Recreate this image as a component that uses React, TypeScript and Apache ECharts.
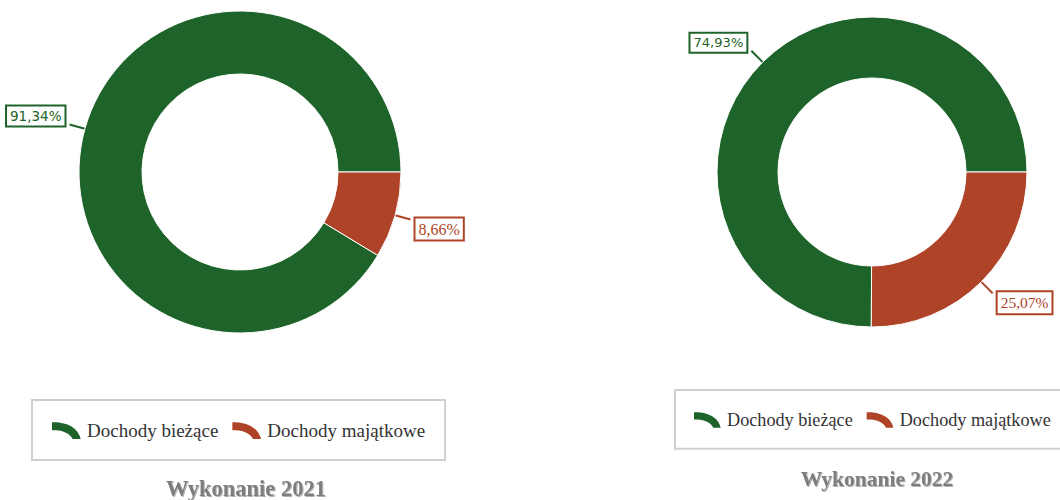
import React, { useEffect, useRef } from "react";
import * as echarts from "echarts";

const categories = ["Dochody bieżące", "Dochody majątkowe"];
const values2021 = [91.34, 8.66];
const values2022 = [74.93, 25.07];
const titles = ["Wykonanie 2021", "Wykonanie 2022"];
const colors = ["#1e642a", "#ae4327"];

const ICON = "path://M0,0 Q27,0 31,19 L21,19 Q17,10 0,10 Z";

const fmt = (v: number) => v.toFixed(2).replace(".", ",") + "%";

function buildData(vals: number[], scale: number) {
  return vals.map((v, i) => ({
    name: categories[i],
    value: v,
    itemStyle: { color: colors[i] },
    label: {
      color: colors[i],
      borderColor: colors[i],
      fontFamily: i === 0 ? "DejaVu Sans" : "Liberation Serif",
      fontSize: (i === 0 ? 13.5 : 16) * scale,
    },
  }));
}

export default function App() {
  const ref = useRef<HTMLDivElement>(null);
  useEffect(() => {
    document.body.style.margin = "0";
    const chart = echarts.init(ref.current!, undefined, { renderer: "svg" });
    const labelBase = {
      show: true,
      position: "outside",
      formatter: (p: any) => fmt(p.value),
      backgroundColor: "#fff",
      borderWidth: 2,
      padding: [3, 3, 2, 3],
    };
    const layout = (params: any) => {
      const r = params.labelRect;
      const lr = params.labelLinePoints;
      if (!lr) return {};
      const end = lr[lr.length - 1];
      const start = lr[0];
      const dy = end[1] < start[1] ? -r.height / 2 + 3 : r.height / 2 - 3;
      return { dy };
    };
    const titleStyle = (size: number) => ({
      fontFamily: "Liberation Serif",
      fontWeight: "bold",
      fontSize: size,
      color: "#7d7d7d",
      textShadowColor: "rgba(0,0,0,0.3)",
      textShadowBlur: 1,
      textShadowOffsetX: 1,
      textShadowOffsetY: 1,
    });
    chart.setOption({
      animation: false,
      backgroundColor: "#fff",
      title: [
        { text: titles[0], left: 241, top: 472, textAlign: "center", textStyle: titleStyle(22.5) },
        { text: titles[1], left: 872, top: 463, textAlign: "center", textStyle: titleStyle(21.5) },
      ],
      legend: [
        {
          data: categories,
          left: 32,
          top: 400,
          width: 460,
          orient: "horizontal",
          icon: ICON,
          itemWidth: 31,
          itemHeight: 19,
          itemGap: 12,
          borderColor: "#cfcfcf",
          borderWidth: 2,
          padding: [20, 20, 19, 18],
          textStyle: { fontFamily: "Liberation Serif", fontSize: 19, color: "#333" },
        },
        {
          data: categories,
          left: 675,
          top: 390,
          width: 440,
          orient: "horizontal",
          icon: ICON,
          itemWidth: 29,
          itemHeight: 18,
          itemGap: 12,
          borderColor: "#cfcfcf",
          borderWidth: 2,
          padding: [20, 20, 19, 17],
          textStyle: { fontFamily: "Liberation Serif", fontSize: 18.2, color: "#333" },
        },
      ],
      series: [
        {
          type: "pie",
          center: [240, 172],
          radius: [98, 161],
          startAngle: 0,
          clockwise: false,
          avoidLabelOverlap: false,
          itemStyle: { borderColor: "#fff", borderWidth: 1 },
          label: labelBase,
          labelLine: { show: true, length: 16, length2: 0, lineStyle: { width: 2 } },
          labelLayout: layout,
          emphasis: { disabled: true },
          data: buildData(values2021, 1),
        },
        {
          type: "pie",
          center: [872, 172],
          radius: [94, 155],
          startAngle: 0,
          clockwise: false,
          avoidLabelOverlap: false,
          itemStyle: { borderColor: "#fff", borderWidth: 1 },
          label: labelBase,
          labelLine: { show: true, length: 16, length2: 0, lineStyle: { width: 2 } },
          labelLayout: layout,
          emphasis: { disabled: true },
          data: buildData(values2022, 0.97),
        },
      ],
    });
    return () => chart.dispose();
  }, []);
  return <div ref={ref} style={{ width: 1060, height: 500 }} />;
}
